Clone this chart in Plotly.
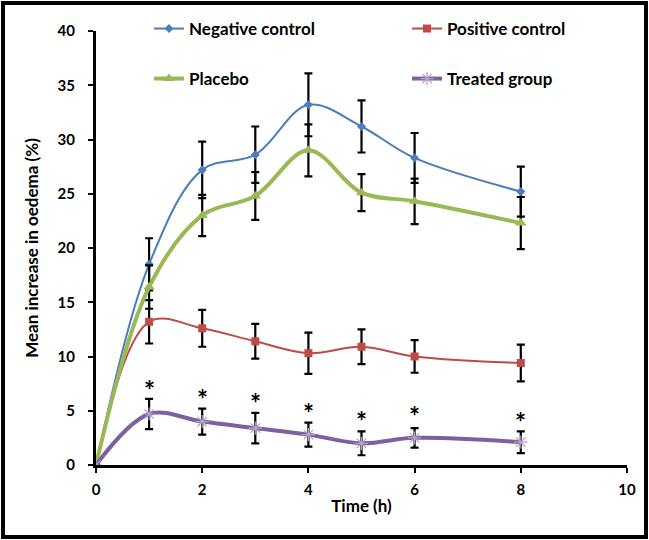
import plotly.graph_objects as go

time_h = [0, 1, 2, 3, 4, 5, 6, 8]

neg_ctrl = [0, 18.5, 27.2, 28.6, 33.2, 31.2, 28.3, 25.2]
neg_err = [0, 2.4, 2.6, 2.6, 2.9, 2.4, 2.3, 2.3]

pos_ctrl = [0, 13.2, 12.6, 11.4, 10.3, 10.9, 10.0, 9.4]
pos_err = [0, 2.0, 1.7, 1.6, 1.9, 1.6, 1.5, 1.7]

placebo = [0, 16.4, 23.0, 24.8, 29.0, 25.1, 24.3, 22.3]
placebo_err = [0, 2.0, 1.9, 2.2, 2.4, 1.7, 2.1, 2.4]

treated = [0, 4.7, 4.0, 3.4, 2.8, 2.0, 2.5, 2.1]
treated_err = [0, 1.4, 1.2, 1.4, 1.1, 1.1, 0.9, 1.0]

# significance marker heights (above treated error bars)
star_y = [None, 6.9, 6.1, 5.7, 4.8, 4.1, 4.5, 4.0]

FONT = "Lato"
W, H = 649, 540

fig = go.Figure()

def add(name, y, err, color, width, symbol, msize, legend, mcolor=None, mline=None):
    fig.add_trace(go.Scatter(
        x=time_h, y=y, name=name, mode="lines+markers",
        line=dict(color=color, width=width, shape="spline", smoothing=1),
        marker=dict(symbol=symbol, size=msize, color=mcolor or color,
                    line=mline or dict(width=0)),
        error_y=dict(type="data", array=err, visible=True, color="black",
                     thickness=2.2, width=4),
        legend=legend,
    ))

add("Negative control", neg_ctrl, neg_err, "#4A7EBB", 2, "diamond", 7, "legend")
add("Positive control", pos_ctrl, pos_err, "#BE4B48", 2, "square", 8, "legend2")
add("Placebo", placebo, placebo_err, "#98B954", 4, "triangle-up", 10, "legend3")
add("Treated group", treated, treated_err, "#7D60A0", 4, "asterisk-open", 11, "legend4",
    mcolor="#B3A2C7", mline=dict(width=1.2, color="#B3A2C7"))

for xv, sy in zip(time_h, star_y):
    if sy is not None:
        fig.add_annotation(x=xv, y=sy, text="<b>*</b>", showarrow=False,
                           font=dict(family=FONT, size=26, color="black"))

fig.add_shape(type="rect", xref="paper", yref="paper",
              x0=3 / W, x1=646 / W, y0=3 / H, y1=537 / H,
              line=dict(color="black", width=4), layer="above")

axis_common = dict(
    showline=True, linecolor="black", linewidth=3, ticks="outside",
    ticklen=5, tickwidth=2, tickcolor="black", showgrid=False, zeroline=False,
    automargin=False,
    tickfont=dict(family=FONT, size=15, color="black", weight="bold"),
)

legend_font = dict(family=FONT, size=17, color="black", weight="bold")

def leg(x, y):
    return dict(orientation="h", x=x, y=y, xanchor="left", yanchor="middle",
                bgcolor="rgba(0,0,0,0)", font=legend_font, borderwidth=0)

fig.update_layout(
    width=W, height=H,
    margin=dict(l=0, r=0, t=0, b=0, autoexpand=False),
    paper_bgcolor="white", plot_bgcolor="white",
    xaxis=dict(domain=[96 / W, 627 / W], range=[0, 10], tickvals=[0, 2, 4, 6, 8, 10],
               ticklabelstandoff=4,
               title=dict(text="<b>Time (h)</b>", standoff=4,
                          font=dict(family=FONT, size=17, color="black")),
               **axis_common),
    yaxis=dict(domain=[(H - 465) / H, (H - 31) / H], range=[0, 40],
               tickvals=[0, 5, 10, 15, 20, 25, 30, 35, 40],
               ticklabelstandoff=10,
               title=dict(text="<b>Mean increase in oedema (%)</b>",
                          font=dict(family=FONT, size=17, color="black")),
               **axis_common),
    legend=leg(149 / W, 1 - 29 / H),
    legend2=leg(407 / W, 1 - 29 / H),
    legend3=leg(149 / W, 1 - 79 / H),
    legend4=leg(407 / W, 1 - 79 / H),
    showlegend=True,
)

fig.write_html("out.html", config={"displayModeBar": False},
               post_script="document.body.style.margin='0';document.body.style.padding='0';")
